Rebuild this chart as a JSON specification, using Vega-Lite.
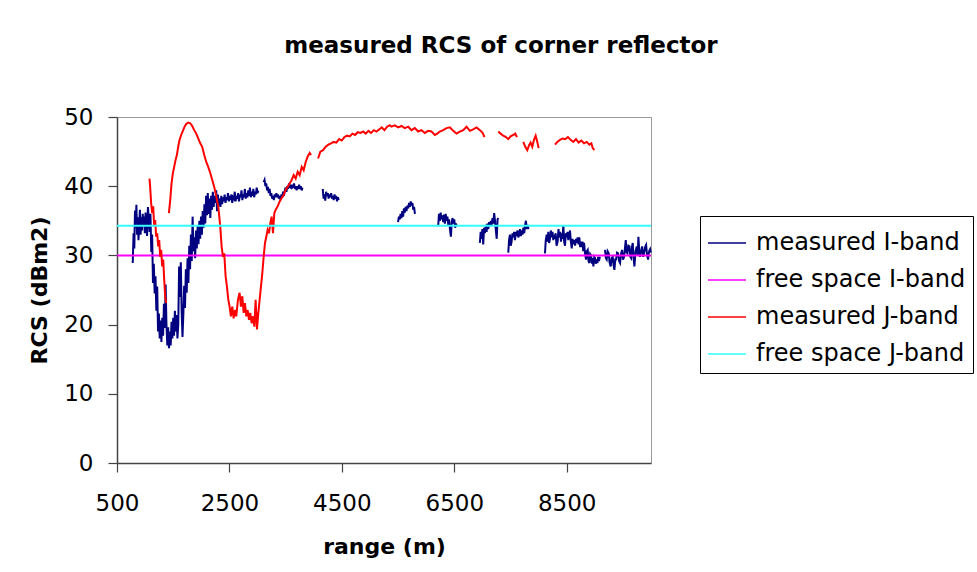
{
  "$schema": "https://vega.github.io/schema/vega-lite/v6.json",
  "autosize": "none",
  "width": 534,
  "height": 346,
  "padding": {"left": 117, "top": 117, "right": 326, "bottom": 109},
  "background": "white",
  "title": {
    "text": "measured RCS of corner reflector",
    "font": "DejaVu Sans",
    "fontSize": 23,
    "fontWeight": "bold",
    "color": "black",
    "anchor": "middle",
    "frame": "group",
    "dx": 117,
    "offset": 48
  },
  "datasets": {
    "iband": [
      {"g":1,"r":780,"v":28.9},{"g":1,"r":795,"v":33.2},{"g":1,"r":808,"v":31.0},{"g":1,"r":820,"v":36.5},{"g":1,"r":832,"v":34.0},{"g":1,"r":845,"v":37.3},{"g":1,"r":857,"v":33.0},{"g":1,"r":870,"v":35.5},{"g":1,"r":882,"v":32.2},{"g":1,"r":895,"v":34.6},{"g":1,"r":908,"v":36.6},{"g":1,"r":920,"v":33.0},{"g":1,"r":933,"v":35.5},{"g":1,"r":945,"v":33.6},{"g":1,"r":958,"v":36.0},{"g":1,"r":970,"v":34.4},{"g":1,"r":983,"v":35.6},{"g":1,"r":995,"v":33.2},{"g":1,"r":1008,"v":36.2},{"g":1,"r":1020,"v":34.6},{"g":1,"r":1035,"v":32.8},{"g":1,"r":1050,"v":37.0},{"g":1,"r":1065,"v":35.4},{"g":1,"r":1080,"v":33.4},{"g":1,"r":1095,"v":36.0},{"g":1,"r":1110,"v":30.5},{"g":1,"r":1125,"v":33.0},{"g":1,"r":1140,"v":26.0},{"g":1,"r":1155,"v":28.8},{"g":1,"r":1170,"v":24.5},{"g":1,"r":1185,"v":27.0},{"g":1,"r":1200,"v":22.0},{"g":1,"r":1215,"v":25.5},{"g":1,"r":1230,"v":19.0},{"g":1,"r":1245,"v":21.6},{"g":1,"r":1260,"v":18.0},{"g":1,"r":1275,"v":20.6},{"g":1,"r":1290,"v":17.5},{"g":1,"r":1305,"v":21.0},{"g":1,"r":1320,"v":18.4},{"g":1,"r":1335,"v":23.0},{"g":1,"r":1350,"v":19.5},{"g":1,"r":1365,"v":25.8},{"g":1,"r":1380,"v":20.0},{"g":1,"r":1395,"v":17.0},{"g":1,"r":1410,"v":19.6},{"g":1,"r":1425,"v":16.6},{"g":1,"r":1440,"v":19.0},{"g":1,"r":1455,"v":17.0},{"g":1,"r":1470,"v":20.4},{"g":1,"r":1485,"v":18.0},{"g":1,"r":1500,"v":21.0},{"g":1,"r":1515,"v":18.4},{"g":1,"r":1530,"v":22.0},{"g":1,"r":1545,"v":19.0},{"g":1,"r":1560,"v":21.4},{"g":1,"r":1575,"v":18.0},{"g":1,"r":1590,"v":20.0},{"g":1,"r":1605,"v":28.4},{"g":1,"r":1620,"v":24.0},{"g":1,"r":1635,"v":29.0},{"g":1,"r":1650,"v":22.0},{"g":1,"r":1665,"v":18.2},{"g":1,"r":1680,"v":21.4},{"g":1,"r":1695,"v":25.6},{"g":1,"r":1710,"v":22.4},{"g":1,"r":1725,"v":28.0},{"g":1,"r":1740,"v":24.6},{"g":1,"r":1755,"v":29.6},{"g":1,"r":1770,"v":26.0},{"g":1,"r":1785,"v":31.4},{"g":1,"r":1800,"v":28.0},{"g":1,"r":1815,"v":33.0},{"g":1,"r":1830,"v":29.2},{"g":1,"r":1845,"v":35.6},{"g":1,"r":1860,"v":30.6},{"g":1,"r":1875,"v":32.6},{"g":1,"r":1890,"v":29.6},{"g":1,"r":1905,"v":33.6},{"g":1,"r":1920,"v":31.0},{"g":1,"r":1935,"v":34.2},{"g":1,"r":1950,"v":31.6},{"g":1,"r":1965,"v":35.0},{"g":1,"r":1980,"v":32.4},{"g":1,"r":1995,"v":35.6},{"g":1,"r":2010,"v":33.0},{"g":1,"r":2025,"v":36.4},{"g":1,"r":2040,"v":34.0},{"g":1,"r":2055,"v":37.4},{"g":1,"r":2070,"v":34.6},{"g":1,"r":2085,"v":38.6},{"g":1,"r":2100,"v":35.8},{"g":1,"r":2115,"v":39.0},{"g":1,"r":2130,"v":36.0},{"g":1,"r":2145,"v":38.2},{"g":1,"r":2160,"v":35.4},{"g":1,"r":2175,"v":38.6},{"g":1,"r":2190,"v":36.6},{"g":1,"r":2205,"v":39.2},{"g":1,"r":2220,"v":37.0},{"g":1,"r":2235,"v":38.6},{"g":1,"r":2250,"v":37.6},{"g":1,"r":2265,"v":39.4},{"g":1,"r":2280,"v":36.4},{"g":1,"r":2295,"v":38.8},{"g":1,"r":2310,"v":37.2},{"g":1,"r":2325,"v":38.2},{"g":1,"r":2340,"v":37.0},{"g":1,"r":2355,"v":38.6},{"g":1,"r":2370,"v":37.4},{"g":1,"r":2385,"v":38.4},{"g":1,"r":2400,"v":37.8},{"g":1,"r":2415,"v":38.8},{"g":1,"r":2430,"v":37.6},{"g":1,"r":2445,"v":38.4},{"g":1,"r":2460,"v":38.0},{"g":1,"r":2475,"v":39.0},{"g":1,"r":2490,"v":37.8},{"g":1,"r":2505,"v":38.6},{"g":1,"r":2520,"v":38.0},{"g":1,"r":2535,"v":38.8},{"g":1,"r":2550,"v":37.6},{"g":1,"r":2565,"v":38.4},{"g":1,"r":2580,"v":38.2},{"g":1,"r":2595,"v":39.2},{"g":1,"r":2610,"v":37.8},{"g":1,"r":2625,"v":38.6},{"g":1,"r":2640,"v":38.2},{"g":1,"r":2655,"v":39.0},{"g":1,"r":2670,"v":37.8},{"g":1,"r":2685,"v":38.8},{"g":1,"r":2700,"v":38.4},{"g":1,"r":2715,"v":39.4},{"g":1,"r":2730,"v":38.0},{"g":1,"r":2745,"v":38.8},{"g":1,"r":2760,"v":38.4},{"g":1,"r":2775,"v":39.6},{"g":1,"r":2790,"v":38.2},{"g":1,"r":2805,"v":39.0},{"g":1,"r":2820,"v":38.4},{"g":1,"r":2835,"v":39.4},{"g":1,"r":2850,"v":38.6},{"g":1,"r":2865,"v":39.8},{"g":1,"r":2880,"v":38.4},{"g":1,"r":2895,"v":39.2},{"g":1,"r":2910,"v":38.6},{"g":1,"r":2925,"v":39.6},{"g":1,"r":2940,"v":38.4},{"g":1,"r":2955,"v":39.2},{"g":1,"r":2970,"v":38.8},{"g":1,"r":2985,"v":39.8},{"g":1,"r":3000,"v":39.0},{"g":1,"r":3015,"v":39.4},
      {"g":2,"r":3110,"v":40.6},{"g":2,"r":3125,"v":40.9},{"g":2,"r":3140,"v":40.0},{"g":2,"r":3155,"v":40.4},{"g":2,"r":3170,"v":39.4},{"g":2,"r":3185,"v":39.9},{"g":2,"r":3200,"v":39.0},{"g":2,"r":3215,"v":39.6},{"g":2,"r":3230,"v":38.6},{"g":2,"r":3245,"v":39.0},{"g":2,"r":3260,"v":38.2},{"g":2,"r":3275,"v":38.6},{"g":2,"r":3290,"v":38.0},{"g":2,"r":3305,"v":38.8},{"g":2,"r":3320,"v":38.4},{"g":2,"r":3335,"v":39.0},{"g":2,"r":3350,"v":38.4},{"g":2,"r":3365,"v":38.8},{"g":2,"r":3380,"v":38.2},{"g":2,"r":3395,"v":38.6},{"g":2,"r":3410,"v":38.0},{"g":2,"r":3425,"v":38.8},{"g":2,"r":3440,"v":38.4},{"g":2,"r":3455,"v":39.2},{"g":2,"r":3470,"v":38.6},{"g":2,"r":3485,"v":39.4},{"g":2,"r":3500,"v":39.8},{"g":2,"r":3515,"v":39.2},{"g":2,"r":3530,"v":40.0},{"g":2,"r":3545,"v":39.6},{"g":2,"r":3560,"v":40.4},{"g":2,"r":3575,"v":39.8},{"g":2,"r":3590,"v":40.2},{"g":2,"r":3605,"v":39.6},{"g":2,"r":3620,"v":40.2},{"g":2,"r":3635,"v":39.8},{"g":2,"r":3650,"v":40.4},{"g":2,"r":3665,"v":39.6},{"g":2,"r":3680,"v":40.0},{"g":2,"r":3695,"v":39.4},{"g":2,"r":3710,"v":40.0},{"g":2,"r":3725,"v":39.6},{"g":2,"r":3740,"v":40.2},{"g":2,"r":3755,"v":39.6},{"g":2,"r":3770,"v":40.0},{"g":2,"r":3785,"v":39.4},{"g":2,"r":3800,"v":39.8},
      {"g":3,"r":4160,"v":39.6},{"g":3,"r":4175,"v":38.2},{"g":3,"r":4190,"v":38.8},{"g":3,"r":4205,"v":37.9},{"g":3,"r":4220,"v":39.2},{"g":3,"r":4235,"v":38.6},{"g":3,"r":4250,"v":39.0},{"g":3,"r":4265,"v":38.2},{"g":3,"r":4280,"v":38.8},{"g":3,"r":4295,"v":38.4},{"g":3,"r":4310,"v":39.0},{"g":3,"r":4325,"v":38.2},{"g":3,"r":4340,"v":38.6},{"g":3,"r":4355,"v":38.0},{"g":3,"r":4370,"v":38.8},{"g":3,"r":4385,"v":38.2},{"g":3,"r":4400,"v":38.6},{"g":3,"r":4415,"v":37.8},{"g":3,"r":4430,"v":38.4},{"g":3,"r":4445,"v":38.0},
      {"g":4,"r":5500,"v":34.8},{"g":4,"r":5515,"v":35.6},{"g":4,"r":5530,"v":35.2},{"g":4,"r":5545,"v":36.0},{"g":4,"r":5560,"v":35.4},{"g":4,"r":5575,"v":36.4},{"g":4,"r":5590,"v":35.6},{"g":4,"r":5605,"v":36.8},{"g":4,"r":5620,"v":36.2},{"g":4,"r":5635,"v":37.0},{"g":4,"r":5650,"v":36.4},{"g":4,"r":5665,"v":37.2},{"g":4,"r":5680,"v":36.8},{"g":4,"r":5695,"v":37.6},{"g":4,"r":5710,"v":37.0},{"g":4,"r":5725,"v":37.8},{"g":4,"r":5740,"v":37.2},{"g":4,"r":5755,"v":37.6},{"g":4,"r":5770,"v":36.6},{"g":4,"r":5785,"v":37.0},{"g":4,"r":5800,"v":36.0},
      {"g":5,"r":6214,"v":34.2},{"g":5,"r":6228,"v":36.0},{"g":5,"r":6244,"v":35.0},{"g":5,"r":6258,"v":36.2},{"g":5,"r":6273,"v":35.2},{"g":5,"r":6288,"v":35.8},{"g":5,"r":6303,"v":34.8},{"g":5,"r":6318,"v":35.9},{"g":5,"r":6333,"v":34.6},{"g":5,"r":6348,"v":36.0},{"g":5,"r":6363,"v":35.0},{"g":5,"r":6378,"v":35.6},{"g":5,"r":6393,"v":34.4},{"g":5,"r":6408,"v":35.2},{"g":5,"r":6423,"v":33.8},{"g":5,"r":6440,"v":32.7},{"g":5,"r":6455,"v":34.8},{"g":5,"r":6470,"v":35.4},{"g":5,"r":6485,"v":34.6},{"g":5,"r":6500,"v":35.2},{"g":5,"r":6515,"v":34.0},{"g":5,"r":6530,"v":34.6},{"g":5,"r":6545,"v":34.2},
      {"g":6,"r":6956,"v":31.8},{"g":6,"r":6970,"v":33.4},{"g":6,"r":6986,"v":32.4},{"g":6,"r":7000,"v":33.8},{"g":6,"r":7015,"v":31.6},{"g":6,"r":7030,"v":34.0},{"g":6,"r":7045,"v":33.2},{"g":6,"r":7060,"v":34.4},{"g":6,"r":7075,"v":33.4},{"g":6,"r":7090,"v":34.6},{"g":6,"r":7105,"v":33.8},{"g":6,"r":7120,"v":34.8},{"g":6,"r":7135,"v":34.2},{"g":6,"r":7150,"v":35.0},{"g":6,"r":7165,"v":34.4},{"g":6,"r":7180,"v":35.4},{"g":6,"r":7195,"v":34.6},{"g":6,"r":7210,"v":36.1},{"g":6,"r":7225,"v":35.0},{"g":6,"r":7240,"v":33.6},{"g":6,"r":7255,"v":32.4},{"g":6,"r":7270,"v":35.2},{"g":6,"r":7283,"v":35.4},
      {"g":7,"r":7461,"v":30.4},{"g":7,"r":7475,"v":32.2},{"g":7,"r":7490,"v":33.0},{"g":7,"r":7505,"v":31.4},{"g":7,"r":7520,"v":32.0},{"g":7,"r":7535,"v":33.2},{"g":7,"r":7550,"v":32.6},{"g":7,"r":7565,"v":33.4},{"g":7,"r":7580,"v":32.2},{"g":7,"r":7595,"v":33.4},{"g":7,"r":7610,"v":32.8},{"g":7,"r":7625,"v":33.6},{"g":7,"r":7640,"v":32.6},{"g":7,"r":7655,"v":33.0},{"g":7,"r":7670,"v":33.8},{"g":7,"r":7685,"v":32.8},{"g":7,"r":7700,"v":33.6},{"g":7,"r":7715,"v":33.0},{"g":7,"r":7730,"v":34.0},{"g":7,"r":7745,"v":33.2},{"g":7,"r":7760,"v":34.4},{"g":7,"r":7775,"v":35.0},{"g":7,"r":7790,"v":33.8},{"g":7,"r":7805,"v":34.4},{"g":7,"r":7820,"v":33.8},
      {"g":8,"r":8114,"v":30.3},{"g":8,"r":8128,"v":32.2},{"g":8,"r":8144,"v":33.0},{"g":8,"r":8158,"v":32.0},{"g":8,"r":8173,"v":33.4},{"g":8,"r":8188,"v":31.8},{"g":8,"r":8203,"v":32.4},{"g":8,"r":8218,"v":33.6},{"g":8,"r":8233,"v":32.6},{"g":8,"r":8248,"v":33.4},{"g":8,"r":8262,"v":32.2},{"g":8,"r":8277,"v":33.0},{"g":8,"r":8290,"v":32.4},{"g":8,"r":8304,"v":33.2},{"g":8,"r":8320,"v":31.4},{"g":8,"r":8339,"v":32.0},{"g":8,"r":8354,"v":33.8},{"g":8,"r":8369,"v":32.6},{"g":8,"r":8384,"v":33.4},{"g":8,"r":8399,"v":32.0},{"g":8,"r":8414,"v":33.2},{"g":8,"r":8428,"v":32.4},{"g":8,"r":8440,"v":34.4},{"g":8,"r":8455,"v":32.0},{"g":8,"r":8470,"v":31.4},{"g":8,"r":8485,"v":33.2},{"g":8,"r":8500,"v":32.6},{"g":8,"r":8515,"v":33.4},{"g":8,"r":8529,"v":32.2},{"g":8,"r":8544,"v":33.0},{"g":8,"r":8559,"v":33.6},{"g":8,"r":8574,"v":32.0},{"g":8,"r":8590,"v":31.0},{"g":8,"r":8605,"v":32.4},{"g":8,"r":8620,"v":31.6},{"g":8,"r":8636,"v":32.2},{"g":8,"r":8650,"v":31.4},{"g":8,"r":8665,"v":32.4},{"g":8,"r":8678,"v":31.8},{"g":8,"r":8695,"v":32.6},{"g":8,"r":8710,"v":31.6},{"g":8,"r":8725,"v":32.6},{"g":8,"r":8740,"v":31.2},{"g":8,"r":8755,"v":32.0},{"g":8,"r":8767,"v":31.2},{"g":8,"r":8782,"v":32.0},{"g":8,"r":8795,"v":30.6},{"g":8,"r":8809,"v":31.8},{"g":8,"r":8825,"v":30.4},{"g":8,"r":8844,"v":29.4},{"g":8,"r":8858,"v":30.6},{"g":8,"r":8874,"v":30.8},{"g":8,"r":8888,"v":29.2},{"g":8,"r":8904,"v":28.9},{"g":8,"r":8918,"v":30.2},{"g":8,"r":8933,"v":30.0},{"g":8,"r":8948,"v":28.8},{"g":8,"r":8962,"v":29.6},{"g":8,"r":8975,"v":28.4},{"g":8,"r":8990,"v":29.8},{"g":8,"r":9004,"v":29.6},{"g":8,"r":9018,"v":28.8},{"g":8,"r":9033,"v":29.4},{"g":8,"r":9046,"v":28.9},{"g":8,"r":9060,"v":29.8},{"g":8,"r":9075,"v":29.2},{"g":8,"r":9090,"v":29.8},
      {"g":9,"r":9182,"v":30.8},{"g":9,"r":9197,"v":29.6},{"g":9,"r":9212,"v":29.4},{"g":9,"r":9228,"v":30.6},{"g":9,"r":9248,"v":30.3},{"g":9,"r":9263,"v":29.0},{"g":9,"r":9283,"v":28.4},{"g":9,"r":9300,"v":29.6},{"g":9,"r":9319,"v":29.8},{"g":9,"r":9334,"v":28.6},{"g":9,"r":9349,"v":27.9},{"g":9,"r":9364,"v":29.4},{"g":9,"r":9378,"v":29.4},{"g":9,"r":9396,"v":30.4},{"g":9,"r":9414,"v":30.3},{"g":9,"r":9432,"v":29.2},{"g":9,"r":9450,"v":28.9},{"g":9,"r":9467,"v":30.2},{"g":9,"r":9485,"v":30.8},{"g":9,"r":9503,"v":29.4},{"g":9,"r":9521,"v":29.8},{"g":9,"r":9536,"v":31.0},{"g":9,"r":9551,"v":32.2},{"g":9,"r":9566,"v":30.4},{"g":9,"r":9580,"v":30.3},{"g":9,"r":9598,"v":31.4},{"g":9,"r":9616,"v":31.3},{"g":9,"r":9631,"v":29.8},{"g":9,"r":9646,"v":29.6},{"g":9,"r":9660,"v":31.2},{"g":9,"r":9675,"v":31.8},{"g":9,"r":9690,"v":29.6},{"g":9,"r":9705,"v":28.4},{"g":9,"r":9725,"v":30.6},{"g":9,"r":9747,"v":31.3},{"g":9,"r":9762,"v":30.0},{"g":9,"r":9776,"v":32.7},{"g":9,"r":9791,"v":30.6},{"g":9,"r":9806,"v":29.8},{"g":9,"r":9824,"v":30.6},{"g":9,"r":9842,"v":31.3},{"g":9,"r":9860,"v":29.8},{"g":9,"r":9877,"v":30.3},{"g":9,"r":9895,"v":31.2},{"g":9,"r":9913,"v":31.5},{"g":9,"r":9930,"v":30.0},{"g":9,"r":9948,"v":29.4},{"g":9,"r":9966,"v":30.6},{"g":9,"r":9984,"v":30.9},{"g":9,"r":9996,"v":30.4}
    ],
    "jband": [
      {"g":1,"r":1078,"v":41.1},{"g":1,"r":1090,"v":39.9},{"g":1,"r":1108,"v":37.5},{"g":1,"r":1126,"v":36.1},{"g":1,"r":1144,"v":37.1},{"g":1,"r":1162,"v":34.2},{"g":1,"r":1179,"v":35.1},{"g":1,"r":1197,"v":32.7},{"g":1,"r":1215,"v":33.2},{"g":1,"r":1233,"v":31.3},{"g":1,"r":1251,"v":32.2},{"g":1,"r":1268,"v":29.8},{"g":1,"r":1286,"v":30.8},{"g":1,"r":1304,"v":28.4},{"g":1,"r":1322,"v":29.4},{"g":1,"r":1340,"v":26.5},{"g":1,"r":1357,"v":24.1},{"g":1,"r":1375,"v":23.1},
      {"g":2,"r":1423,"v":36.1},{"g":2,"r":1447,"v":38.0},{"g":2,"r":1470,"v":40.4},{"g":2,"r":1494,"v":41.9},{"g":2,"r":1518,"v":42.8},{"g":2,"r":1542,"v":43.8},{"g":2,"r":1565,"v":44.5},{"g":2,"r":1589,"v":45.7},{"g":2,"r":1613,"v":46.7},{"g":2,"r":1642,"v":47.4},{"g":2,"r":1672,"v":48.0},{"g":2,"r":1702,"v":48.6},{"g":2,"r":1732,"v":49.0},{"g":2,"r":1767,"v":49.2},{"g":2,"r":1803,"v":49.1},{"g":2,"r":1838,"v":48.7},{"g":2,"r":1874,"v":48.1},{"g":2,"r":1910,"v":47.6},{"g":2,"r":1945,"v":46.9},{"g":2,"r":1981,"v":46.2},{"g":2,"r":2016,"v":45.7},{"g":2,"r":2052,"v":44.5},{"g":2,"r":2088,"v":43.5},{"g":2,"r":2123,"v":42.8},{"g":2,"r":2159,"v":41.9},{"g":2,"r":2195,"v":40.9},{"g":2,"r":2230,"v":39.9},{"g":2,"r":2266,"v":38.5},{"g":2,"r":2301,"v":37.1},{"g":2,"r":2337,"v":34.2},{"g":2,"r":2361,"v":31.3},{"g":2,"r":2385,"v":29.8},{"g":2,"r":2408,"v":30.3},{"g":2,"r":2432,"v":27.0},{"g":2,"r":2456,"v":25.5},{"g":2,"r":2480,"v":23.6},{"g":2,"r":2503,"v":22.6},{"g":2,"r":2527,"v":21.2},{"g":2,"r":2551,"v":22.6},{"g":2,"r":2575,"v":20.9},{"g":2,"r":2598,"v":22.1},{"g":2,"r":2622,"v":21.2},{"g":2,"r":2652,"v":23.6},{"g":2,"r":2681,"v":24.6},{"g":2,"r":2705,"v":22.6},{"g":2,"r":2729,"v":24.1},{"g":2,"r":2753,"v":21.7},{"g":2,"r":2776,"v":23.1},{"g":2,"r":2800,"v":21.2},{"g":2,"r":2824,"v":22.1},{"g":2,"r":2848,"v":20.7},{"g":2,"r":2871,"v":21.7},{"g":2,"r":2895,"v":20.2},{"g":2,"r":2919,"v":21.2},{"g":2,"r":2943,"v":19.7},{"g":2,"r":2966,"v":23.6},{"g":2,"r":2990,"v":19.3},{"g":2,"r":3014,"v":21.7},{"g":2,"r":3038,"v":23.6},{"g":2,"r":3061,"v":25.5},{"g":2,"r":3085,"v":27.4},{"g":2,"r":3109,"v":29.8},{"g":2,"r":3133,"v":31.8},{"g":2,"r":3156,"v":32.7},{"g":2,"r":3180,"v":33.7},{"g":2,"r":3204,"v":33.2},{"g":2,"r":3228,"v":34.7},{"g":2,"r":3251,"v":35.6},{"g":2,"r":3275,"v":33.2},{"g":2,"r":3299,"v":36.1},{"g":2,"r":3323,"v":36.6},{"g":2,"r":3358,"v":37.1},{"g":2,"r":3394,"v":37.8},{"g":2,"r":3429,"v":38.3},{"g":2,"r":3465,"v":38.7},{"g":2,"r":3501,"v":39.5},{"g":2,"r":3536,"v":39.9},{"g":2,"r":3572,"v":40.4},{"g":2,"r":3608,"v":40.9},{"g":2,"r":3643,"v":41.6},{"g":2,"r":3679,"v":41.1},{"g":2,"r":3714,"v":42.1},{"g":2,"r":3750,"v":41.6},{"g":2,"r":3786,"v":42.8},{"g":2,"r":3821,"v":42.3},{"g":2,"r":3857,"v":43.5},{"g":2,"r":3893,"v":44.3},{"g":2,"r":3928,"v":44.8},{"g":2,"r":3952,"v":44.5},
      {"g":3,"r":4077,"v":44.0},{"g":3,"r":4118,"v":45.0},{"g":3,"r":4166,"v":45.2},{"g":3,"r":4213,"v":45.7},{"g":3,"r":4261,"v":46.0},{"g":3,"r":4308,"v":46.2},{"g":3,"r":4356,"v":46.4},{"g":3,"r":4403,"v":46.3},{"g":3,"r":4451,"v":46.8},{"g":3,"r":4498,"v":46.6},{"g":3,"r":4546,"v":47.1},{"g":3,"r":4593,"v":47.3},{"g":3,"r":4641,"v":47.2},{"g":3,"r":4688,"v":47.6},{"g":3,"r":4736,"v":47.4},{"g":3,"r":4783,"v":47.8},{"g":3,"r":4831,"v":47.7},{"g":3,"r":4878,"v":47.9},{"g":3,"r":4926,"v":47.6},{"g":3,"r":4973,"v":48.0},{"g":3,"r":5020,"v":47.7},{"g":3,"r":5068,"v":48.1},{"g":3,"r":5115,"v":47.9},{"g":3,"r":5163,"v":48.2},{"g":3,"r":5210,"v":48.5},{"g":3,"r":5258,"v":48.1},{"g":3,"r":5305,"v":48.6},{"g":3,"r":5353,"v":48.8},{"g":3,"r":5383,"v":48.6},{"g":3,"r":5442,"v":48.8},{"g":3,"r":5502,"v":48.5},{"g":3,"r":5561,"v":48.7},{"g":3,"r":5620,"v":48.4},{"g":3,"r":5680,"v":48.6},{"g":3,"r":5739,"v":48.1},{"g":3,"r":5798,"v":48.4},{"g":3,"r":5858,"v":47.9},{"g":3,"r":5917,"v":48.1},{"g":3,"r":5977,"v":47.7},{"g":3,"r":6036,"v":48.0},{"g":3,"r":6095,"v":47.9},{"g":3,"r":6155,"v":47.4},{"g":3,"r":6196,"v":47.6},{"g":3,"r":6244,"v":47.9},{"g":3,"r":6303,"v":48.1},{"g":3,"r":6362,"v":48.4},{"g":3,"r":6422,"v":48.5},{"g":3,"r":6481,"v":48.0},{"g":3,"r":6540,"v":47.6},{"g":3,"r":6600,"v":47.9},{"g":3,"r":6659,"v":48.1},{"g":3,"r":6719,"v":48.6},{"g":3,"r":6778,"v":48.0},{"g":3,"r":6837,"v":48.2},{"g":3,"r":6897,"v":48.5},{"g":3,"r":6956,"v":48.1},{"g":3,"r":7004,"v":47.7},{"g":3,"r":7039,"v":47.1},
      {"g":4,"r":7283,"v":47.9},{"g":4,"r":7324,"v":47.6},{"g":4,"r":7372,"v":47.3},{"g":4,"r":7419,"v":47.1},{"g":4,"r":7461,"v":46.8},{"g":4,"r":7502,"v":47.2},{"g":4,"r":7550,"v":47.4},{"g":4,"r":7585,"v":47.6},{"g":4,"r":7615,"v":47.1},
      {"g":5,"r":7728,"v":46.4},{"g":5,"r":7763,"v":45.7},{"g":5,"r":7799,"v":45.2},{"g":5,"r":7829,"v":45.9},{"g":5,"r":7858,"v":46.3},{"g":5,"r":7888,"v":45.7},{"g":5,"r":7918,"v":46.7},{"g":5,"r":7948,"v":47.3},{"g":5,"r":7977,"v":46.4},{"g":5,"r":8001,"v":45.5},
      {"g":6,"r":8292,"v":46.0},{"g":6,"r":8333,"v":46.4},{"g":6,"r":8381,"v":46.7},{"g":6,"r":8428,"v":46.9},{"g":6,"r":8476,"v":46.8},{"g":6,"r":8523,"v":47.1},{"g":6,"r":8571,"v":46.7},{"g":6,"r":8618,"v":46.4},{"g":6,"r":8666,"v":46.8},{"g":6,"r":8713,"v":46.3},{"g":6,"r":8761,"v":46.6},{"g":6,"r":8808,"v":46.2},{"g":6,"r":8856,"v":46.4},{"g":6,"r":8903,"v":46.0},{"g":6,"r":8939,"v":46.2},{"g":6,"r":8963,"v":45.5},{"g":6,"r":8993,"v":45.2}
    ],
    "freeI": [{"r":500,"v":30.0},{"r":10000,"v":30.0}],
    "freeJ": [{"r":500,"v":34.3},{"r":10000,"v":34.3}],
    "xTicks": [{"r":500},{"r":2500},{"r":4500},{"r":6500},{"r":8500}],
    "yTicks": [{"v":0},{"v":10},{"v":20},{"v":30},{"v":40},{"v":50}]
  },
  "encoding": {
    "x": {
      "field": "r",
      "type": "quantitative",
      "title": "range (m)",
      "scale": {"domain": [500, 10000], "nice": false, "zero": false},
      "axis": {"values": [500, 2500, 4500, 6500, 8500], "format": "d", "labelFlush": false, "labelPadding": 20, "titlePadding": 21}
    },
    "y": {
      "field": "v",
      "type": "quantitative",
      "title": "RCS (dBm2)",
      "scale": {"domain": [0, 50], "nice": false},
      "axis": {"values": [0, 10, 20, 30, 40, 50], "labelFlush": false, "labelPadding": 15, "titlePadding": 12}
    }
  },
  "layer": [
    {
      "data": {"name": "iband"},
      "mark": {"type": "line", "strokeWidth": 2},
      "encoding": {
        "detail": {"field": "g", "type": "nominal"},
        "color": {
          "datum": "measured I-band",
          "type": "nominal",
          "title": null,
          "scale": {
            "domain": ["measured I-band", "free space I-band", "measured J-band", "free space J-band"],
            "range": ["#000080", "#FF00FF", "#FF0000", "#33FFFF"]
          }
        }
      }
    },
    {
      "data": {"name": "freeI"},
      "mark": {"type": "line", "strokeWidth": 2},
      "encoding": {"color": {"datum": "free space I-band", "type": "nominal", "title": null}}
    },
    {
      "data": {"name": "jband"},
      "mark": {"type": "line", "strokeWidth": 2},
      "encoding": {
        "detail": {"field": "g", "type": "nominal"},
        "color": {"datum": "measured J-band", "type": "nominal", "title": null}
      }
    },
    {
      "data": {"name": "freeJ"},
      "mark": {"type": "line", "strokeWidth": 2},
      "encoding": {"color": {"datum": "free space J-band", "type": "nominal", "title": null}}
    },
    {
      "data": {"name": "xTicks"},
      "mark": {"type": "tick", "orient": "vertical", "size": 14, "thickness": 1.2, "color": "#444", "opacity": 1},
      "encoding": {"y": {"datum": 0, "type": "quantitative"}}
    },
    {
      "data": {"name": "yTicks"},
      "mark": {"type": "tick", "orient": "horizontal", "size": 14, "thickness": 1.2, "color": "#444", "opacity": 1},
      "encoding": {"x": {"datum": 500, "type": "quantitative"}}
    }
  ],
  "config": {
    "font": "DejaVu Sans",
    "view": {"stroke": "#999999", "strokeWidth": 1},
    "axis": {
      "grid": false,
      "domainColor": "#444444",
      "domainWidth": 1.5,
      "tickColor": "#444444",
      "tickWidth": 1.2,
      "tickSize": 9,
      "labelFont": "DejaVu Sans",
      "labelFontSize": 23,
      "labelColor": "black",
      "titleFont": "DejaVu Sans",
      "titleFontSize": 22,
      "titleFontWeight": "bold",
      "titleColor": "black"
    },
    "legend": {
      "orient": "none",
      "legendX": 583,
      "legendY": 99,
      "fillColor": "white",
      "strokeColor": "black",
      "padding": 7,
      "symbolType": "stroke",
      "symbolSize": 1444,
      "symbolStrokeWidth": 1.5,
      "labelFont": "DejaVu Sans",
      "labelFontSize": 24,
      "labelColor": "black",
      "labelOffset": 9,
      "rowPadding": 5,
      "labelLimit": 400
    }
  }
}
